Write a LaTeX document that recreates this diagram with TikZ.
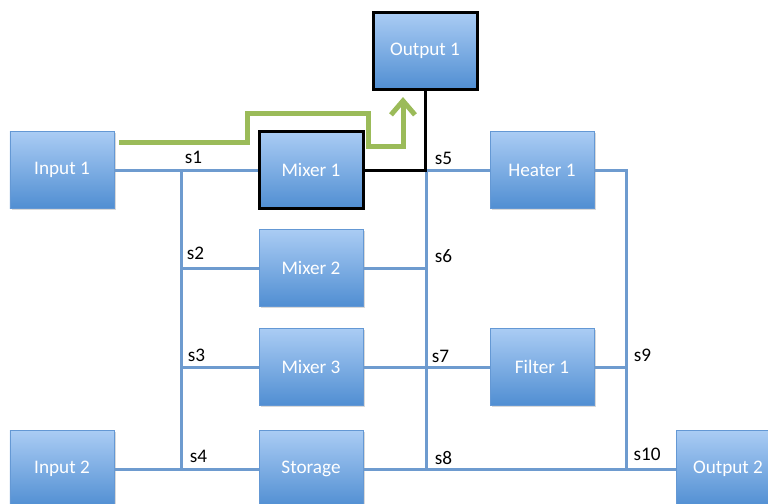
\documentclass[tikz,border=0pt]{standalone}
\usepackage{fontspec}
\setmainfont{Carlito}
\usetikzlibrary{arrows.meta,shadows}
\definecolor{unit_top}{RGB}{170,204,244}
\definecolor{unit_bottom}{RGB}{80,142,210}
\definecolor{unit_edge}{RGB}{100,152,212}
\definecolor{pipe_blue}{RGB}{110,155,207}
\definecolor{flow_green}{RGB}{155,187,89}

\tikzset{
  unit/.style={rectangle, draw=unit_edge, line width=0.4pt,
    top color=unit_top, bottom color=unit_bottom, text=white,
    minimum width=52pt, minimum height=38.5pt, inner sep=0pt,
    font=\fontsize{9.6}{11}\selectfont,
    drop shadow={shadow xshift=0.8pt, shadow yshift=-0.8pt, opacity=0.3}},
  picked/.style={draw=black, line width=1.5pt},
  pipe/.style={draw=pipe_blue, line width=1.5pt},
  lbl/.style={font=\fontsize{9.6}{11}\selectfont, inner sep=0pt},
}

\begin{document}
\begin{tikzpicture}[x=0.5pt,y=-0.5pt]
    \useasboundingbox (0,0) rectangle (768,504);

    % Units
    \node[unit] (in1) at (62,170) {Input 1};
    \node[unit, picked] (mix1) at (311,170) {Mixer 1};
    \node[unit] (heat1) at (542,170) {Heater 1};
    \node[unit] (mix2) at (311,268) {Mixer 2};
    \node[unit] (mix3) at (311,367) {Mixer 3};
    \node[unit] (filt1) at (542,367) {Filter 1};
    \node[unit] (in2) at (62,469) {Input 2};
    \node[unit] (stor) at (311,469) {Storage};
    \node[unit] (out2) at (728,469) {Output 2};
    \node[unit, picked] (out1) at (425,51) {Output 1};

    % Junctions
    \coordinate (s1) at (181,170);
    \coordinate (s2) at (181,268);
    \coordinate (s3) at (181,367);
    \coordinate (s4) at (181,469);
    \coordinate (s5) at (426,170);
    \coordinate (s6) at (426,268);
    \coordinate (s7) at (426,367);
    \coordinate (s8) at (426,469);
    \coordinate (r1) at (626,170);
    \coordinate (s9) at (626,367);
    \coordinate (s10) at (626,469);

    % Pipes
    \draw[pipe] (in1.east) -- (mix1.west);
    \draw[pipe] (s1) -- (s4);
    \draw[pipe] (s5) -- (s8);
    \draw[pipe] (s5) -- (heat1.west);
    \draw[pipe] (heat1.east) -- (r1) -- (s10);
    \draw[pipe] (s2) -- (mix2.west);
    \draw[pipe] (mix2.east) -- (s6);
    \draw[pipe] (s3) -- (mix3.west);
    \draw[pipe] (mix3.east) -- (filt1.west);
    \draw[pipe] (filt1.east) -- (s9);
    \draw[pipe] (in2.east) -- (stor.west);
    \draw[pipe] (stor.east) -- (out2.west);

    % Selected route
    \draw[black, line width=1.5pt] (mix1.east) -| (out1.south);

    % Flow arrow
    \coordinate (f0) at (119,142);
    \coordinate (f1) at (403,97);
    \draw[flow_green, line width=2.5pt, -{Straight Barb[length=7pt,width=12pt]}]
        (f0) -- ++(128,0) -- ++(0,-29) -- ++(121,0) -- ++(0,33) -- ++(35,0) -- (f1);

    % Stream labels
    \node[lbl] (t1) at (193.5,157) {s1};
    \node[lbl] (t2) at (195.5,253) {s2};
    \node[lbl] (t3) at (196.5,355) {s3};
    \node[lbl] (t4) at (198.5,456) {s4};
    \node[lbl] (t5) at (443.5,158) {s5};
    \node[lbl] (t6) at (443.5,256) {s6};
    \node[lbl] (t7) at (440.5,356) {s7};
    \node[lbl] (t8) at (443.5,458) {s8};
    \node[lbl] (t9) at (642.5,355) {s9};
    \node[lbl] (t10) at (647,454) {s10};
\end{tikzpicture}
\end{document}
